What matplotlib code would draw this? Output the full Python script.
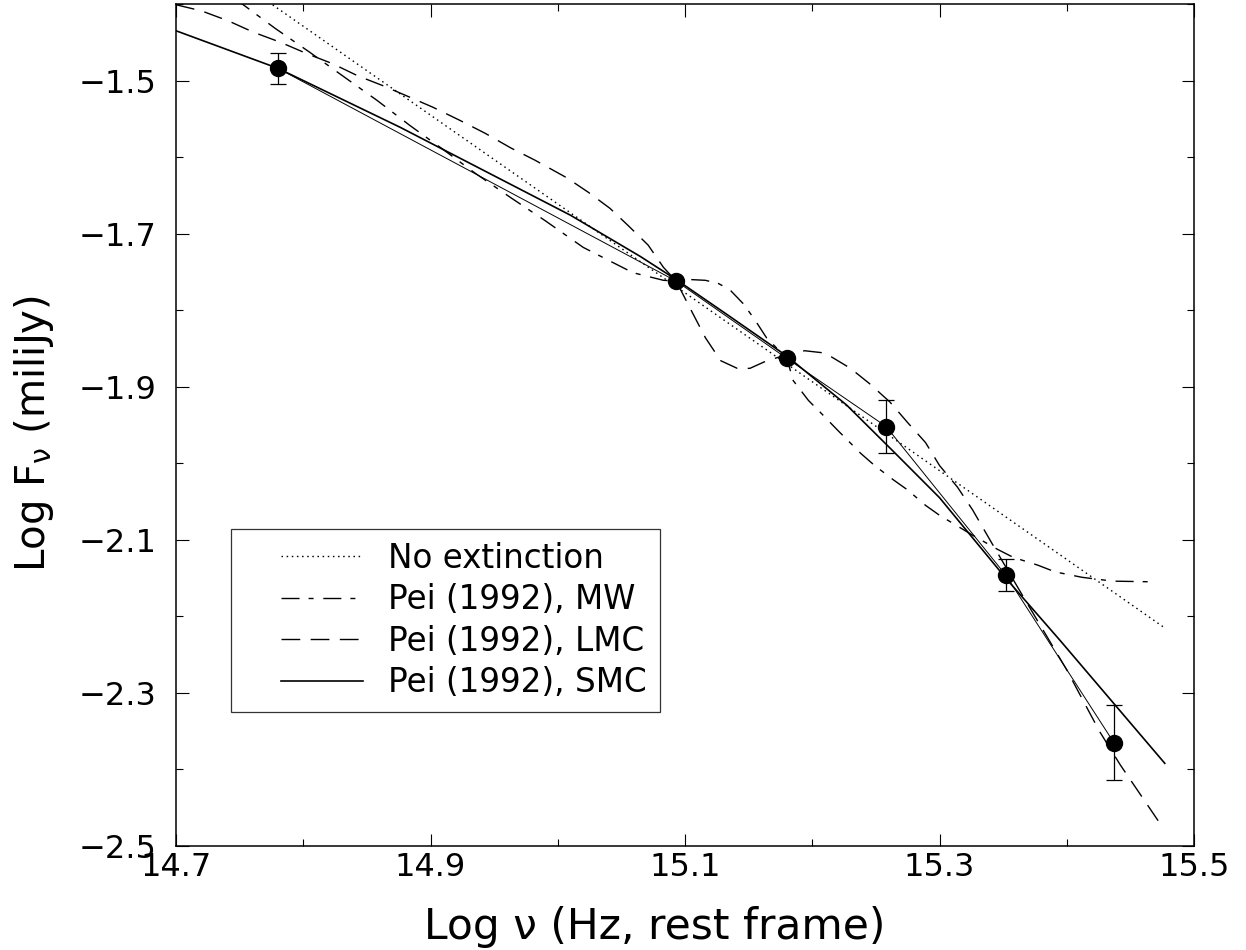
import numpy as np
import matplotlib
matplotlib.use("Agg")
import matplotlib.pyplot as plt
from matplotlib.lines import Line2D
from matplotlib.legend_handler import HandlerLine2D

plt.rcParams['font.family'] = ['DejaVu Sans']
plt.rcParams['mathtext.fontset'] = 'dejavusans'
plt.rcParams['lines.scale_dashes'] = False

# ---- observed photometry ----
obs_lognu = [14.780, 15.093, 15.180, 15.258, 15.352, 15.437]
obs_logf = [-1.484, -1.762, -1.863, -1.952, -2.146, -2.365]
obs_err = [0.020, 0.0, 0.0, 0.035, 0.021, 0.049]

# ---- model: no extinction (power law) ----
noext_x = [14.700, 15.476]
noext_y = [-1.313, -2.214]

# ---- model: Pei (1992) MW ----
mw_x = [14.700, 14.752, 14.778, 14.805, 14.831, 14.858, 14.884, 14.909, 14.935,
        14.963, 14.990, 15.020, 15.040, 15.059, 15.083, 15.093, 15.104, 15.116,
        15.126, 15.135, 15.146, 15.155, 15.164, 15.180, 15.185, 15.197, 15.206,
        15.220, 15.238, 15.249, 15.264, 15.275, 15.289, 15.300, 15.316, 15.326,
        15.345, 15.358, 15.377, 15.391, 15.412, 15.436, 15.471]
mw_y = [-1.345, -1.400, -1.432, -1.463, -1.494, -1.526, -1.559, -1.589, -1.621,
        -1.653, -1.683, -1.718, -1.735, -1.751, -1.761, -1.762, -1.760, -1.761,
        -1.765, -1.773, -1.792, -1.813, -1.836, -1.863, -1.892, -1.918, -1.933,
        -1.957, -1.987, -2.003, -2.022, -2.035, -2.055, -2.068, -2.084, -2.094,
        -2.112, -2.123, -2.133, -2.142, -2.149, -2.154, -2.155]

# ---- model: Pei (1992) LMC ----
lmc_x = [14.700, 14.720, 14.741, 14.761, 14.782, 14.803, 14.823, 14.843, 14.863,
         14.884, 14.902, 14.923, 14.943, 14.963, 14.982, 15.007, 15.024, 15.041,
         15.055, 15.071, 15.083, 15.093, 15.106, 15.116, 15.128, 15.141, 15.151,
         15.163, 15.180, 15.194, 15.210, 15.230, 15.245, 15.261, 15.275, 15.289,
         15.300, 15.314, 15.326, 15.342, 15.366, 15.400, 15.416, 15.426, 15.442,
         15.462, 15.473]
lmc_y = [-1.401, -1.409, -1.422, -1.437, -1.450, -1.465, -1.478, -1.494, -1.507,
         -1.522, -1.535, -1.552, -1.569, -1.588, -1.604, -1.627, -1.646, -1.667,
         -1.689, -1.715, -1.744, -1.762, -1.804, -1.836, -1.866, -1.876, -1.876,
         -1.867, -1.858, -1.853, -1.856, -1.876, -1.896, -1.920, -1.947, -1.973,
         -2.003, -2.031, -2.061, -2.107, -2.175, -2.270, -2.320, -2.351, -2.394,
         -2.443, -2.470]

# ---- model: Pei (1992) SMC ----
smc_x = [14.700, 14.780, 14.876, 15.010, 15.065, 15.093, 15.135, 15.180, 15.227,
         15.264, 15.300, 15.352, 15.395, 15.436, 15.477]
smc_y = [-1.435, -1.484, -1.561, -1.676, -1.730, -1.760, -1.808, -1.860, -1.924,
         -1.985, -2.045, -2.150, -2.232, -2.312, -2.392]

x_ticks = [14.7, 14.9, 15.1, 15.3, 15.5]
y_ticks = [-2.5, -2.3, -2.1, -1.9, -1.7, -1.5]

fig = plt.figure(figsize=(12.46, 9.5), dpi=100)
ax = fig.add_axes([0.1413, 0.1095, 0.8170, 0.8863])

ax.plot(noext_x, noext_y, color='black', lw=1.0, linestyle=(0, (1.1, 2.6)),
        label='No extinction')
ax.plot(mw_x, mw_y, color='black', lw=1.0, linestyle=(0, (13, 6.5, 3.6, 7.0)),
        label='Pei (1992), MW')
ax.plot(lmc_x, lmc_y, color='black', lw=1.0, linestyle=(0, (13.5, 7.5)),
        label='Pei (1992), LMC')
ax.plot(smc_x, smc_y, color='black', lw=1.2, linestyle='-',
        label='Pei (1992), SMC')
# thin line joining the observations
ax.plot(obs_lognu, obs_logf, color='black', lw=0.7, linestyle='-')

ax.errorbar(obs_lognu, obs_logf, yerr=obs_err, fmt='none', ecolor='black',
            elinewidth=0.9, capsize=5.5, capthick=0.9, zorder=4)
ax.plot(obs_lognu, obs_logf, 'o', color='black', markersize=11.5, zorder=5)

ax.set_xlim(14.7, 15.5)
ax.set_ylim(-2.5, -1.4)
ax.set_xticks(x_ticks)
ax.set_xticklabels([f'{v:.1f}' for v in x_ticks])
ax.set_yticks(y_ticks)
ax.set_yticklabels([f'\u2212{abs(v):.1f}' for v in y_ticks])
ax.set_xticks(np.arange(14.8, 15.5, 0.2), minor=True)
ax.set_yticks(np.arange(-2.4, -1.39, 0.2), minor=True)
ax.tick_params(which='both', direction='in', top=True, right=True, width=0.8,
               labelsize=23)
ax.tick_params(which='major', length=9)
ax.tick_params(which='minor', length=5)
ax.tick_params(axis='y', pad=14)
ax.tick_params(axis='x', pad=4)
for s in ax.spines.values():
    s.set_linewidth(1.1)

ax.set_xlabel('Log \u03bd (Hz, rest frame)', fontsize=30.5)
ax.xaxis.set_label_coords(0.4705, -0.071)
ax.set_ylabel('Log F$_{\\mathrm{\\nu}}$ (miliJy)', fontsize=29)
ax.yaxis.set_label_coords(-0.118, 0.49)

fs_leg = 23.5
leg = ax.legend(loc='lower left', bbox_to_anchor=(0.054, 0.159), borderaxespad=0,
                fontsize=fs_leg, frameon=True, fancybox=False, edgecolor='black',
                handlelength=3.65, handletextpad=0.77, labelspacing=0.26,
                borderpad=0.4,
                handler_map={Line2D: HandlerLine2D(xpad=1.13)})
leg.get_frame().set_linewidth(0.9)

fig.savefig('out.png', dpi=100)
